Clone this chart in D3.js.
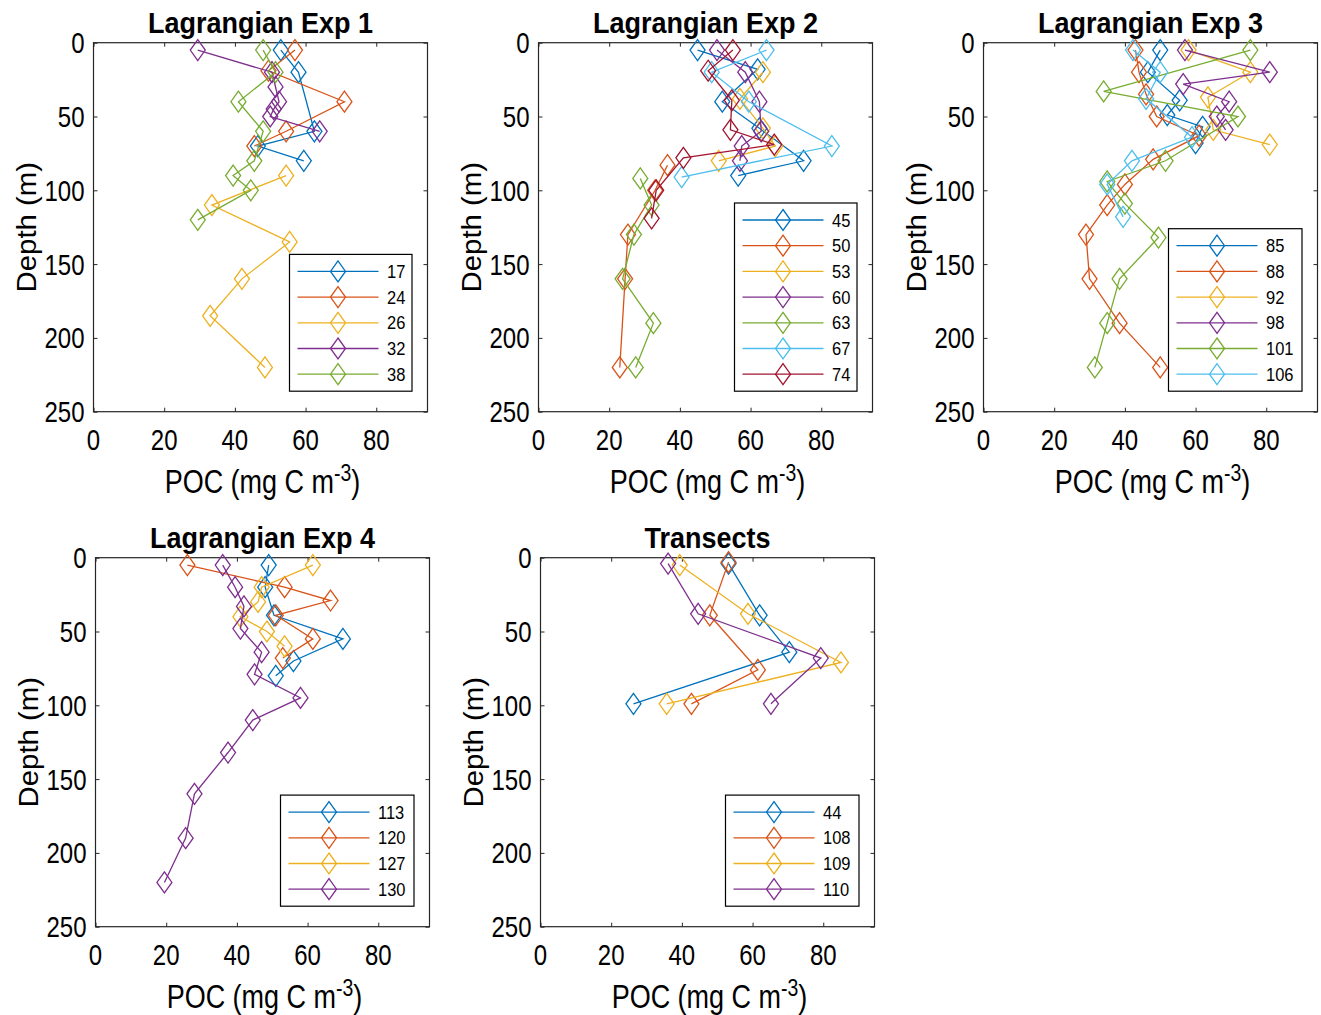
<!DOCTYPE html>
<html><head><meta charset="utf-8">
<script src="https://cdn.jsdelivr.net/npm/d3@7"></script>
<style>body{margin:0;background:#fff;} svg{display:block;} text{font-family:"Liberation Sans",Arial,Helvetica,sans-serif;fill:#000;}</style>
</head><body><svg id="c" width="1321" height="1015"></svg>
<script>
// ---------- data ----------
const xTickValues = [0, 20, 40, 60, 80];
const yTickValues = [0, 50, 100, 150, 200, 250];
const pocDomain = [0, 94.5];
const depthDomain = [0, 250];
const seriesColors = ["#0072BD", "#D95319", "#EDB120", "#7E2F8E", "#77AC30", "#4DBEEE", "#A2142F"];
const panelTitles = ["Lagrangian Exp 1", "Lagrangian Exp 2", "Lagrangian Exp 3", "Lagrangian Exp 4", "Transects"];

// each point: [POC (mg C m-3), depth (m)]
const exp1Names = ["17", "24", "26", "32", "38"];
const exp1_17 = [[53, 5], [58, 20], [62.5, 60], [46.5, 70], [59.5, 80]];
const exp1_24 = [[57, 5], [49.5, 19], [71, 40], [54.5, 60], [45.5, 70]];
const exp1_26 = [[54.5, 90], [33.5, 110], [55.5, 135], [42, 160], [33, 185], [48.5, 220]];
const exp1_32 = [[29.5, 5], [50.5, 20], [51.5, 30], [52.5, 40], [51, 45], [50, 50], [64, 60]];
const exp1_38 = [[48, 5], [51.5, 20], [41, 40], [48, 60], [45.5, 80], [39.5, 90], [44.5, 100], [29.5, 120]];

const exp2Names = ["45", "50", "53", "60", "63", "67", "74"];
const exp2_45 = [[45, 5], [62, 18], [52, 40], [62.5, 58], [75, 80], [56.5, 90]];
const exp2_50 = [[36.5, 83], [33, 100], [25.3, 130], [24.5, 160], [23, 220]];
const exp2_53 = [[63.5, 20], [57, 38], [63.5, 58], [67, 70], [51, 80]];
const exp2_60 = [[50.5, 5], [58.5, 20], [62.5, 40], [63, 60], [57.5, 70], [57, 80]];
const exp2_63 = [[28.8, 92], [32, 110], [27, 130], [23.8, 160], [32.5, 190], [27.5, 220]];
const exp2_67 = [[64.5, 5], [49, 20], [59.5, 40], [83, 70], [40.5, 91]];
const exp2_74 = [[55, 5], [48, 19], [54.7, 39], [54.3, 59], [66.7, 69], [41, 78], [33.3, 100], [32, 119]];

const exp3Names = ["85", "88", "92", "98", "101", "106"];
const exp3_85 = [[50, 5], [46.5, 20], [55.5, 39], [52, 49], [62, 57], [60, 68]];
const exp3_88 = [[43, 5], [44, 20], [46, 35], [49, 50], [61, 63], [48, 79], [40, 96], [35, 110], [29, 130], [30, 160], [38.5, 190], [50, 220]];
const exp3_92 = [[58, 5], [75.5, 20], [63.5, 37], [65, 59], [81, 69]];
const exp3_98 = [[57, 5], [81, 20], [56.5, 28], [69.5, 40], [66, 50], [68.5, 59]];
const exp3_101 = [[75.5, 5], [34, 33], [72, 50], [51.5, 80], [35, 94], [40, 109], [49.5, 132], [38.5, 160], [35, 190], [31.5, 220]];
const exp3_106 = [[42.3, 5], [50, 20], [46, 38], [59, 64], [42, 80], [35, 96], [39.5, 118]];

const exp4Names = ["113", "120", "127", "130"];
const exp4_113 = [[49, 5], [48, 20], [50.5, 39], [70, 55], [56, 70], [51, 80]];
const exp4_120 = [[26, 5], [53.5, 20], [66.5, 29], [51, 39], [61.5, 55], [53, 68]];
const exp4_127 = [[61.5, 5], [47, 20], [46, 30], [41, 40], [48.5, 50], [53.5, 60]];
const exp4_130 = [[36, 5], [39.5, 20], [42, 33], [41, 48], [47, 64], [45, 79], [58, 95], [44.5, 110], [37.5, 132], [28, 160], [25.5, 190], [19.5, 220]];

const transNames = ["44", "108", "109", "110"];
const trans_44 = [[53.2, 4], [62, 39], [70.4, 64], [26.3, 99]];
const trans_108 = [[53.2, 3], [47.9, 39], [61.5, 76], [42.7, 99]];
const trans_109 = [[39.4, 5], [58.7, 38], [85, 71], [35.7, 99]];
const trans_110 = [[36.1, 4], [44.6, 38], [79.3, 68], [65.2, 99]];

const panelNames = [exp1Names, exp2Names, exp3Names, exp4Names, transNames];
const panelSeries = [
  [exp1_17, exp1_24, exp1_26, exp1_32, exp1_38],
  [exp2_45, exp2_50, exp2_53, exp2_60, exp2_63, exp2_67, exp2_74],
  [exp3_85, exp3_88, exp3_92, exp3_98, exp3_101, exp3_106],
  [exp4_113, exp4_120, exp4_127, exp4_130],
  [trans_44, trans_108, trans_109, trans_110]
];

// ---------- layout ----------
const panelOrigins = [[93.5, 42.7], [538.5, 42.7], [983.5, 42.7], [95.5, 557.7], [540.5, 557.7]];
const PW = 334, PH = 369;
const MW = 7.5, MH = 10.5; // diamond half width / half height
const TICK_F = 24, TICK_S = 1.22;
const LAB_F = 27, LAB_S = 1.2;
const YLAB_F = 28, YLAB_S = 1.05;
const TITLE_F = 27, TITLE_S = 1.1;
const LEG_F = 16.5, LEG_S = 1.1;

const svg = d3.select("#c");
const diamond = `M0,${-MH}L${MW},0L0,${MH}L${-MW},0Z`;

function stext(g, x, y, str, size, sy, anchor, weight) {
  return g.append("text")
    .attr("transform", `translate(${x},${y}) scale(1,${sy})`)
    .attr("text-anchor", anchor || "middle")
    .style("font-size", size + "px")
    .style("font-weight", weight || "normal")
    .text(str);
}

panelSeries.forEach((seriesList, pi) => {
  const [ox, oy] = panelOrigins[pi];
  const g = svg.append("g").attr("transform", `translate(${ox},${oy})`);
  const x = d3.scaleLinear().domain(pocDomain).range([0, PW]);
  const y = d3.scaleLinear().domain(depthDomain).range([0, PH]);

  // axes with inward ticks on all sides
  const tl = 4;
  const axB = g.append("g").attr("transform", `translate(0,${PH})`)
    .call(d3.axisBottom(x).tickValues(xTickValues).tickSize(-tl).tickFormat(""));
  const axT = g.append("g").call(d3.axisTop(x).tickValues(xTickValues).tickSize(-tl).tickFormat(""));
  const axL = g.append("g").call(d3.axisLeft(y).tickValues(yTickValues).tickSize(-tl).tickFormat(""));
  const axR = g.append("g").attr("transform", `translate(${PW},0)`)
    .call(d3.axisRight(y).tickValues(yTickValues).tickSize(-tl).tickFormat(""));
  [axB, axT, axL, axR].forEach(a => {
    a.select(".domain").remove();
    a.selectAll(".tick line").attr("stroke", "#262626").attr("stroke-width", 1);
  });
  g.append("rect").attr("x", 0).attr("y", 0).attr("width", PW).attr("height", PH)
    .attr("fill", "none").attr("stroke", "#262626").attr("stroke-width", 1.2);

  // tick labels
  xTickValues.forEach(v => stext(g, x(v), PH + 38, String(v), TICK_F, TICK_S, "middle"));
  yTickValues.forEach(v => stext(g, -9, y(v) + 0.36 * TICK_F * TICK_S, String(v), TICK_F, TICK_S, "end"));

  // axis labels
  const xl = g.append("text")
    .attr("transform", `translate(${PW / 2 + 2},${PH + 81}) scale(1,${LAB_S})`)
    .attr("text-anchor", "middle").style("font-size", LAB_F + "px");
  xl.append("tspan").text("POC (mg C m");
  xl.append("tspan").attr("dy", -10).style("font-size", (LAB_F * 0.72) + "px").text("-3");
  xl.append("tspan").attr("dy", 10).text(")");
  g.append("text")
    .attr("transform", `translate(${-58},${PH / 2}) scale(1,${YLAB_S}) rotate(-90)`)
    .attr("text-anchor", "middle").style("font-size", YLAB_F + "px")
    .text("Depth (m)");

  // title
  stext(g, PW / 2, -9.5, panelTitles[pi], TITLE_F, TITLE_S, "middle", "bold");

  // series
  const line = d3.line().x(d => x(d[0])).y(d => y(d[1]));
  seriesList.forEach((data, si) => {
    const col = seriesColors[si];
    const sg = g.append("g");
    sg.append("path").attr("d", line(data)).attr("fill", "none")
      .attr("stroke", col).attr("stroke-width", 1.3);
    sg.selectAll("path.m").data(data).join("path").attr("class", "m")
      .attr("transform", d => `translate(${x(d[0])},${y(d[1])})`)
      .attr("d", diamond).attr("fill", "none").attr("stroke", col).attr("stroke-width", 1.3);
  });

  // legend
  const names = panelNames[pi];
  const wide = names.some(n => n.length > 2);
  const lw = wide ? 133.5 : 122.5;
  const step = 25.7, pad = 17;
  const lh = pad * 2 + (names.length - 1) * step;
  const lx = PW - 15.5 - lw, ly = PH - 20.5 - lh;
  const lg = g.append("g").attr("transform", `translate(${lx},${ly})`);
  lg.append("rect").attr("width", lw).attr("height", lh).attr("fill", "#fff")
    .attr("stroke", "#000").attr("stroke-width", 1.2);
  names.forEach((n, i) => {
    const yy = pad + i * step;
    lg.append("line").attr("x1", 8).attr("x2", 89).attr("y1", yy).attr("y2", yy)
      .attr("stroke", seriesColors[i]).attr("stroke-width", 1.3);
    lg.append("path").attr("transform", `translate(48.5,${yy})`).attr("d", diamond)
      .attr("fill", "none").attr("stroke", seriesColors[i]).attr("stroke-width", 1.3);
    stext(lg, 97.5, yy + 0.36 * LEG_F * LEG_S, n, LEG_F, LEG_S, "start");
  });
});
</script></body></html>
